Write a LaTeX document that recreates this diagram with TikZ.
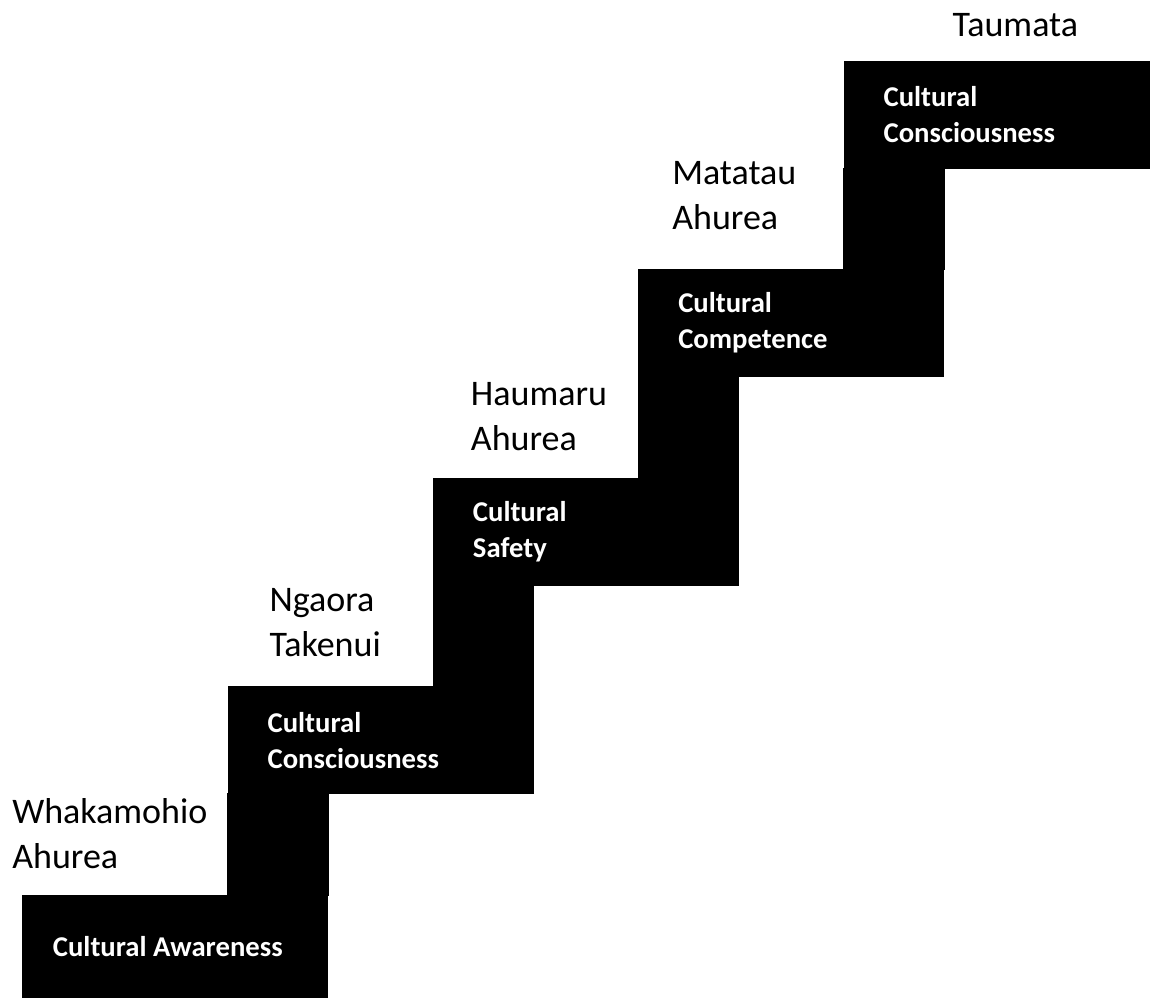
\documentclass[tikz,border=0pt]{standalone}
\usepackage{fontspec}
\setmainfont{Carlito}
\usepackage{tikz}
\usetikzlibrary{
    positioning,
    backgrounds
}
\tikzset{
    stepbox/.style={
        rectangle, fill=black, text=white, minimum height=81pt,
        text width=169.5pt, inner xsep=30pt, inner ysep=0pt,
        align=flush left, font=\fontsize{21.5}{27}\selectfont\bfseries
    },
    steplabel/.style={
        inner sep=0pt, align=left, text=black,
        font=\fontsize{27}{33.75}\selectfont
    },
    riser/.style={fill=black},
}

\begin{document}
\begin{tikzpicture}[x=0.75pt, y=0.75pt]

    \useasboundingbox (0,0) rectangle (1151,998);

    % ── 台阶 ─────────────────────────────────────────────
    \node [stepbox, minimum height=77.25pt, anchor=south west,
           text width=183.5pt, inner xsep=23pt]
        (aware) at (22,0) {Cultural Awareness};
    \node [stepbox, above=75pt of aware, xshift=154pt]
        (consc) {Cultural\\Consciousness};
    \node [stepbox, above=75pt of consc, xshift=154pt]
        (safety) {Cultural\\Safety};
    \node [stepbox, above=75pt of safety, xshift=154pt]
        (compet) {Cultural\\Competence};
    \node [stepbox, above=75pt of compet, xshift=154pt]
        (consctop) {Cultural\\Consciousness};

    % ── 竖向连接（放在背景层）────────────────────────────
    \begin{scope}[on background layer]
        \fill [riser] ([yshift=1pt]consc.south west) rectangle ([yshift=-1pt]aware.north east);
        \fill [riser] ([yshift=1pt]safety.south west) rectangle ([yshift=-1pt]consc.north east);
        \fill [riser] ([yshift=1pt]compet.south west) rectangle ([yshift=-1pt]safety.north east);
        \fill [riser] ([yshift=1pt]consctop.south west) rectangle ([yshift=-1pt]compet.north east);
    \end{scope}

    % ── 毛利语标签 ───────────────────────────────────────
    \node [steplabel, above right=18.75pt and -7.5pt of aware.north west]
        (whakamohio) {Whakamohio\\Ahurea};
    \node [steplabel, above right=21.75pt and 31.5pt of consc.north west]
        (ngaora) {Ngaora\\Takenui};
    \node [steplabel, above right=19.5pt and 28.5pt of safety.north west]
        (haumaru) {Haumaru\\Ahurea};
    \node [steplabel, above right=29.25pt and 25.5pt of compet.north west]
        (matatau) {Matatau\\Ahurea};
    \node [steplabel, above right=17.25pt and 81.75pt of consctop.north west]
        (taumata) {Taumata};

\end{tikzpicture}
\end{document}
